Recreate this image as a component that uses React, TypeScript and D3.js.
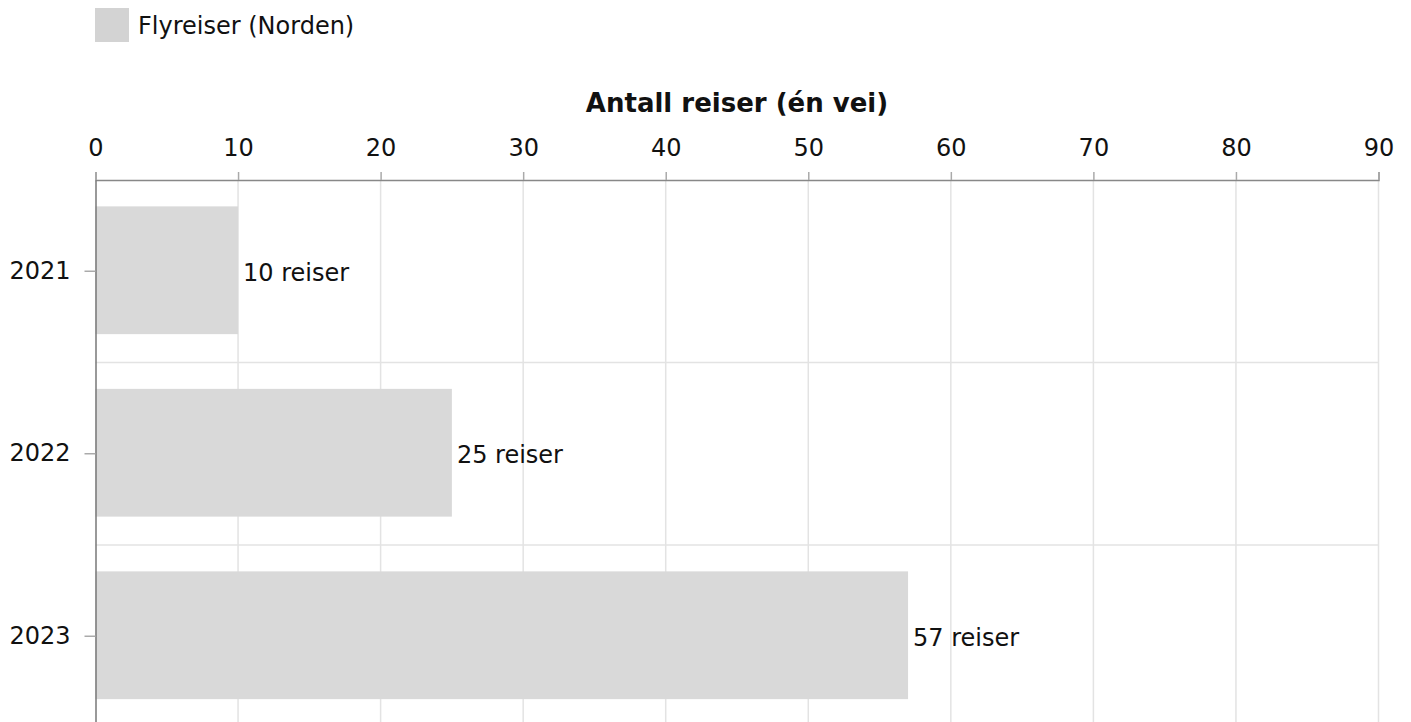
import { useEffect, useRef } from 'react'
import * as d3 from 'd3'

const years = ['2021', '2022', '2023']
const trips = [10, 25, 57]
const xTicks = [0, 10, 20, 30, 40, 50, 60, 70, 80, 90]
const seriesName = 'Flyreiser (Norden)'
const axisTitle = 'Antall reiser (én vei)'

export default function App() {
  const ref = useRef<SVGSVGElement>(null)

  useEffect(() => {
    if (!ref.current) return
    document.body.style.margin = '0'
    const svg = d3.select(ref.current)
    svg.selectAll('*').remove()

    const font = 'DejaVu Sans, Verdana, sans-serif'
    const left = 95.5
    const right = 1378.5
    const top = 180
    const bottom = 727.5

    const x = d3.scaleLinear().domain([0, 90]).range([left, right])
    const y = d3.scaleBand().domain(years).range([top, bottom]).paddingInner(0.3).paddingOuter(0.15)
    const step = y.step()

    // legend
    svg.append('rect').attr('x', 95).attr('y', 8).attr('width', 34).attr('height', 34).attr('fill', '#d3d3d3')
    svg.append('text').attr('x', 138).attr('y', 34).text(seriesName)
      .style('font-family', font).style('font-size', '24px').attr('fill', '#111')

    // axis title
    svg.append('text').attr('x', (left + right) / 2).attr('y', 112).attr('text-anchor', 'middle')
      .text(axisTitle).style('font-family', font).style('font-size', '26px').style('font-weight', 'bold')
      .attr('fill', '#111')

    // vertical grid
    svg.append('g').selectAll('line').data(xTicks.slice(1)).enter().append('line')
      .attr('x1', d => x(d)).attr('x2', d => x(d)).attr('y1', top).attr('y2', 722)
      .attr('stroke', '#e3e3e3').attr('stroke-width', 1.5)

    // horizontal grid between bands
    svg.append('g').selectAll('line').data(years.slice(1)).enter().append('line')
      .attr('x1', left).attr('x2', right)
      .attr('y1', d => (y(d) || 0) - (step - y.bandwidth()) / 2)
      .attr('y2', d => (y(d) || 0) - (step - y.bandwidth()) / 2)
      .attr('stroke', '#e3e3e3').attr('stroke-width', 1.5)

    // bars
    svg.append('g').selectAll('rect').data(trips).enter().append('rect')
      .attr('x', x(0)).attr('y', (_, i) => (y(years[i]) || 0) - 1)
      .attr('width', d => x(d) - x(0)).attr('height', y.bandwidth())
      .attr('fill', '#d9d9d9')

    // value labels
    svg.append('g').selectAll('text').data(trips).enter().append('text')
      .attr('x', d => x(d) + 5).attr('y', (_, i) => (y(years[i]) || 0) + y.bandwidth() / 2 + 1)
      .attr('dy', '0.35em').text(d => `${d} reiser`)
      .style('font-family', font).style('font-size', '24px').attr('fill', '#111')

    // top axis
    const xAxis = svg.append('g').attr('transform', `translate(0,${top})`)
      .call(d3.axisTop(x).tickValues(xTicks).tickSize(8).tickPadding(16))
    xAxis.select('.domain').attr('stroke', '#888').attr('stroke-width', 1.5)
    xAxis.selectAll('.tick line').attr('stroke', '#aaa').attr('stroke-width', 1.5)
    xAxis.selectAll('.tick text').style('font-family', font).style('font-size', '24px').attr('fill', '#111')

    // left axis
    const yAxis = svg.append('g').attr('transform', `translate(${left},0)`)
      .call(d3.axisLeft(y).tickSize(11).tickPadding(14).tickSizeOuter(0))
    yAxis.select('.domain').attr('stroke', '#777').attr('stroke-width', 1.5)
    yAxis.selectAll('.tick line').attr('stroke', '#aaa').attr('stroke-width', 1.5)
    yAxis.selectAll('.tick text').style('font-family', font).style('font-size', '24px').attr('fill', '#111')
  }, [])

  return <svg ref={ref} width={1411} height={722} style={{ display: 'block', background: '#fff' }} />
}
